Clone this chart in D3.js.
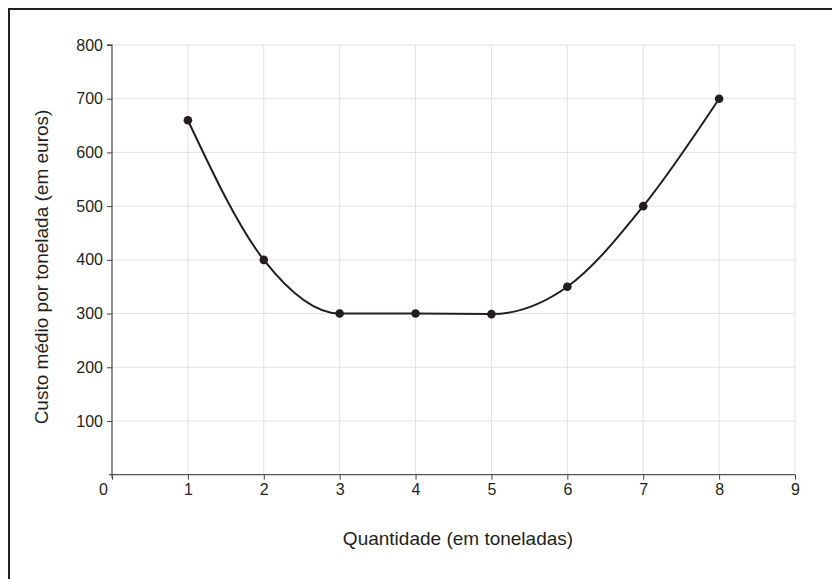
<!DOCTYPE html>
<html><head><meta charset="utf-8">
<script src="https://cdn.jsdelivr.net/npm/d3@7"></script>
<style>body{margin:0;background:#fff}svg{display:block;font-family:"Liberation Sans",Arial,sans-serif}</style>
</head><body>
<svg width="832" height="579"></svg>
<script>
const quantities = [1,2,3,4,5,6,7,8];
const costs = [660,400,300,300,299,350,500,700];
const xTicks = [0,1,2,3,4,5,6,7,8,9];
const yTicks = [100,200,300,400,500,600,700,800];
const xTitle = "Quantidade (em toneladas)";
const yTitle = "Custo médio por tonelada (em euros)";

const svg = d3.select("svg");
const ink = "#231f20";
// frame
svg.append("rect").attr("x",9).attr("y",9).attr("width",900).attr("height",700)
  .attr("fill","none").attr("stroke",ink).attr("stroke-width",2);

const x = d3.scaleLinear().domain([0,9]).range([112,795]);
const y = d3.scaleLinear().domain([0,800]).range([474.7,45]);

const g = svg.append("g");
// grid
g.selectAll("line.vg").data(xTicks.slice(1)).join("line")
  .attr("x1",d=>x(d)).attr("x2",d=>x(d)).attr("y1",y(0)).attr("y2",y(800))
  .attr("stroke","#e2e2e2").attr("stroke-width",1);
g.selectAll("line.hg").data(yTicks).join("line")
  .attr("x1",x(0)).attr("x2",x(9)).attr("y1",d=>y(d)).attr("y2",d=>y(d))
  .attr("stroke","#e2e2e2").attr("stroke-width",1);

// axes
const xa = svg.append("g").attr("transform",`translate(0,${y(0)})`)
  .call(d3.axisBottom(x).tickValues(xTicks).tickSize(5).tickPadding(4).tickFormat(d3.format("d")));
const ya = svg.append("g").attr("transform",`translate(${x(0)},0)`)
  .call(d3.axisLeft(y).tickValues(yTicks).tickSize(5).tickPadding(4).tickFormat(d3.format("d")));
[xa,ya].forEach(a=>{
  a.attr("font-size",null).attr("font-family",null);
  a.select(".domain").attr("stroke","#555").attr("stroke-width",1.3);
  a.selectAll(".tick line").attr("stroke","#444");
  a.selectAll("text").attr("fill",ink).style("font-size","16px")
    .style("font-family","'Liberation Sans', Arial, sans-serif");
});
xa.selectAll(".tick text").filter(d=>d===0).attr("x",-9);
ya.select(".domain").attr("d",`M-5,${y(800)}H0V${y(0)+3}`);
xa.select(".domain").attr("d",`M${x(0)-3},0H${x(9)}`);

// curve
const data = quantities.map((q,i)=>({q,c:costs[i]}));
svg.append("path").datum(data)
  .attr("d",d3.line().x(d=>x(d.q)).y(d=>y(d.c)).curve(d3.curveMonotoneX))
  .attr("fill","none").attr("stroke",ink).attr("stroke-width",2);
svg.selectAll("circle.pt").data(data).join("circle")
  .attr("cx",d=>x(d.q)).attr("cy",d=>y(d.c)).attr("r",4.3).attr("fill",ink);

// titles
svg.append("text").attr("x",458).attr("y",545).attr("text-anchor","middle")
  .attr("fill",ink).style("font-size","19px").text(xTitle);
svg.append("text").attr("transform","translate(48,267) rotate(-90)").attr("text-anchor","middle")
  .attr("fill",ink).style("font-size","19px").text(yTitle);
</script>
</body></html>
